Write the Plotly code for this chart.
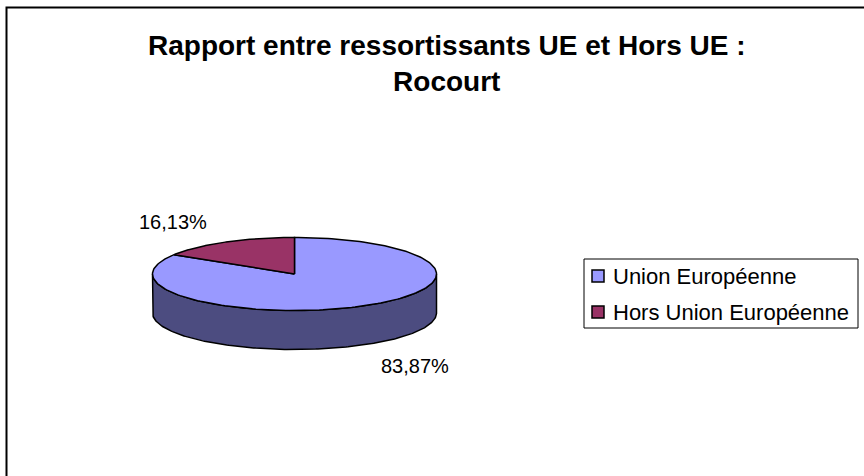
import numpy as np
import plotly.graph_objects as go

# Data
categories = ["Union Européenne", "Hors Union Européenne"]
shares = [83.87, 16.13]  # percent
top_colors = ["#9999FF", "#993366"]
side_colors = ["#4C4C80", "#4D1A33"]

title_lines = ["Rapport entre ressortissants UE et Hors UE :", "Rocourt"]

# Canvas / pie geometry (pixel-like coordinates, y growing downward)
W, H = 864, 476
CX, CY = 294.5, 274.0      # centre of the top face
RX, RY = 142.0, 36.5       # ellipse radii of the tilted disc
DEPTH = 39.0               # thickness of the 3-D disc
FONT = "Liberation Sans, Arial, sans-serif"


def arc(t0, t1, dy=0.0, n=200):
    """Points on the ellipse, angles in degrees clockwise from 12 o'clock."""
    t = np.radians(np.linspace(t0, t1, n))
    return CX + RX * np.sin(t), CY - RY * np.cos(t) + dy


# Slice angles: first slice starts at 12 o'clock, running clockwise
fr = np.array(shares) / np.sum(shares)
ends = np.cumsum(fr) * 360.0
starts = ends - fr * 360.0

fig = go.Figure()

# Side walls (only the front half, 90..270 deg, faces the viewer)
for s, e, col in zip(starts, ends, side_colors):
    a, b = max(s, 90.0), min(e, 270.0)
    if b <= a:
        continue
    xt, yt = arc(a, b)
    xb, yb = arc(b, a, dy=DEPTH)
    fig.add_trace(go.Scatter(
        x=np.r_[xt, xb, xt[:1]], y=np.r_[yt, yb, yt[:1]],
        mode="lines", fill="toself", fillcolor=col,
        line=dict(color="black", width=1.5),
        hoverinfo="skip", showlegend=False))

# Top faces
for s, e, col in zip(starts, ends, top_colors):
    xa, ya = arc(s, e)
    fig.add_trace(go.Scatter(
        x=np.r_[CX, xa, CX], y=np.r_[CY, ya, CY],
        mode="lines", fill="toself", fillcolor=col,
        line=dict(color="black", width=1.5),
        hoverinfo="skip", showlegend=False))

annotations = []

# Percentage labels placed outside each slice, near its mid-angle
label_offsets = [(52, 21), (-53, -20)]
for s, e, v, (ox, oy) in zip(starts, ends, shares, label_offsets):
    m = np.radians((s + e) / 2)
    ex = CX + RX * np.sin(m)
    ey = CY - RY * np.cos(m) + (DEPTH if np.cos(m) < 0 else 0)
    annotations.append(dict(
        x=ex + ox, y=ey + oy, xref="x", yref="y",
        text=f"{v:.2f}%".replace(".", ","), showarrow=False,
        font=dict(family=FONT, size=20, color="black"),
        xanchor="center", yanchor="middle"))

# Title
annotations.append(dict(
    x=447, y=63, xref="x", yref="y",
    text="<br>".join(f"<b>{t}</b>" for t in title_lines), showarrow=False,
    font=dict(family=FONT, size=28, color="black"),
    xanchor="center", yanchor="middle", align="center"))

shapes = [
    # chart-area frame (left and top edges)
    dict(type="path", path=f"M 6.5 {H} L 6.5 7.5 L {W} 7.5",
         xref="x", yref="y", line=dict(color="black", width=2)),
    # legend box
    dict(type="rect", x0=584, x1=858, y0=259, y1=328, xref="x", yref="y",
         line=dict(color="black", width=1), fillcolor="white"),
]

# Legend entries
for i, (cat, col) in enumerate(zip(categories, top_colors)):
    yc = 276 + i * 36
    shapes.append(dict(type="rect", x0=592, x1=604, y0=yc - 6, y1=yc + 6,
                       xref="x", yref="y", fillcolor=col,
                       line=dict(color="black", width=1.5)))
    annotations.append(dict(
        x=611, y=yc, xref="x", yref="y", text=cat, showarrow=False,
        font=dict(family=FONT, size=22, color="black"),
        xanchor="left", yanchor="middle"))

fig.update_layout(
    width=W, height=H,
    margin=dict(l=0, r=0, t=0, b=0),
    paper_bgcolor="white", plot_bgcolor="white",
    xaxis=dict(range=[0, W], visible=False, fixedrange=True),
    yaxis=dict(range=[H, 0], visible=False, fixedrange=True),
    shapes=shapes, annotations=annotations, showlegend=False,
)

fig.write_html("out.html")
